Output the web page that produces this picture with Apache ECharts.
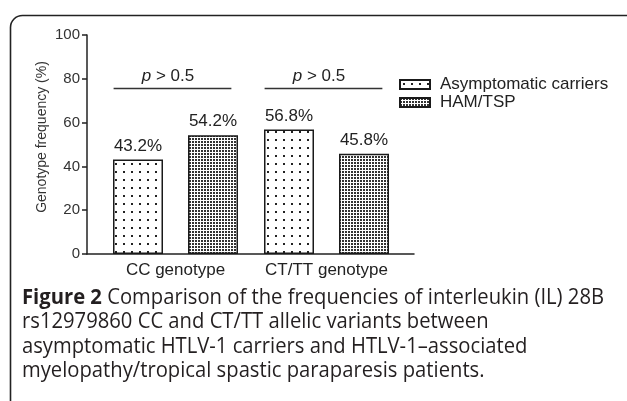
<!DOCTYPE html>
<html>
<head>
<meta charset="utf-8">
<script src="https://cdn.jsdelivr.net/npm/echarts@6/dist/echarts.min.js"></script>
<style>
html,body{margin:0;padding:0;background:#fff;}
#chart{width:627px;height:401px;}
</style>
</head>
<body>
<div id="chart"></div>
<script>
// ---- data ----
const categories = ['CC genotype', 'CT/TT genotype'];
const seriesNames = ['Asymptomatic carriers', 'HAM/TSP'];
const asymptomatic = [43.2, 56.8];
const hamTsp = [54.2, 45.8];
const yTicks = [0, 20, 40, 60, 80, 100];
const bracketLevel = [75.6, 75.6];
const bracketText = ['p > 0.5', 'p > 0.5'];
const captionLines = [
  'Comparison of the frequencies of interleukin (IL) 28B',
  'rs12979860 CC and CT/TT allelic variants between',
  'asymptomatic HTLV-1 carriers and HTLV-1\u2013associated',
  'myelopathy/tropical spastic paraparesis patients.'
];
const captionLead = 'Figure 2';

// ---- patterns ----
function makePattern(size, dot, col) {
  const c = document.createElement('canvas');
  c.width = size; c.height = size;
  const g = c.getContext('2d');
  g.fillStyle = '#fff'; g.fillRect(0, 0, size, size);
  g.fillStyle = col;
  g.fillRect(Math.floor((size - dot) / 2), Math.floor((size - dot) / 2), dot, dot);
  return { image: c, repeat: 'repeat' };
}
const sparse = makePattern(8, 2, '#222');
const dense = makePattern(3, 2, '#333');

const FONT = 'Liberation Sans, Arial, Helvetica, sans-serif';
const CAP_SIZE = 21;

// caption scaling to match condensed look
const mc = document.createElement('canvas').getContext('2d');
mc.font = 'bold ' + CAP_SIZE + 'px "Open Sans"';
const leadW = mc.measureText(captionLead).width;
mc.font = CAP_SIZE + 'px "Open Sans"';
const line1W = leadW + mc.measureText(' ' + captionLines[0]).width;
const capScale = 582 / line1W;

const graphics = [
  { type: 'rect', left: 8, top: 13, shape: { width: 640, height: 420, r: 12 }, style: { fill: 'none', stroke: '#222', lineWidth: 1.6 }, silent: true }
];
const centers = [298, 322.5, 347, 371.5];
captionLines.forEach((t, i) => {
  graphics.push({
    type: 'text', x: 22, y: centers[i], scaleX: capScale,
    style: {
      text: i === 0 ? '{b|' + captionLead + '} ' + t : t,
      font: CAP_SIZE + 'px "Open Sans"', fill: '#231f20', verticalAlign: 'middle',
      rich: { b: { fontWeight: 'bold', fontSize: CAP_SIZE, fontFamily: 'Open Sans', fill: '#231f20' } }
    }
  });
});

const chart = echarts.init(document.getElementById('chart'), null, { renderer: 'canvas' });
const option = {
  animation: false,
  backgroundColor: '#fff',
  textStyle: { fontFamily: FONT },
  grid: [
    { left: 100, right: 225, top: 35, bottom: 147 },
    { left: 87, right: 213, top: 35, bottom: 147 }
  ],
  legend: {
    data: seriesNames,
    orient: 'vertical',
    left: 399, top: 76, padding: 0,
    itemWidth: 30, itemHeight: 9, itemGap: 1,
    textStyle: { fontSize: 17, color: '#222', fontFamily: FONT, padding: [0, 0, 0, 5] },
    icon: 'rect'
  },
  xAxis: [
    {
      type: 'category', data: categories, gridIndex: 0,
      axisLine: { show: false }, axisTick: { show: false },
      axisLabel: { interval: 0, fontSize: 17, color: '#222', margin: 8, fontFamily: FONT }
    },
    {
      type: 'value', gridIndex: 1, min: 0, max: 1,
      axisLine: { show: true, lineStyle: { color: '#222', width: 1.5 } },
      axisTick: { show: false }, axisLabel: { show: false }, splitLine: { show: false }
    }
  ],
  yAxis: [
    {
      type: 'value', gridIndex: 0, min: yTicks[0], max: yTicks[yTicks.length - 1], interval: 20,
      offset: 13,
      axisLine: { show: true, lineStyle: { color: '#222', width: 1.5 } },
      axisTick: { show: true, length: 5, lineStyle: { color: '#222', width: 1.5 } },
      axisLabel: { fontSize: 15, color: '#333', margin: 7, fontFamily: FONT },
      splitLine: { show: false },
      name: 'Genotype frequency (%)', nameLocation: 'middle', nameGap: 38,
      nameTextStyle: { fontSize: 14, color: '#333', fontFamily: FONT, padding: [0, 0, 0, 15] }
    },
    { type: 'value', gridIndex: 1, show: false, min: 0, max: 100 }
  ],
  series: [
    {
      name: seriesNames[0], type: 'bar', data: asymptomatic, barWidth: 50, barGap: '50%',
      itemStyle: { color: sparse, borderColor: '#1a1a1a', borderWidth: 1.5 },
      label: { show: true, position: 'top', distance: 5, formatter: '{c}%', fontSize: 17, color: '#222', fontFamily: FONT }
    },
    {
      name: seriesNames[1], type: 'bar', data: hamTsp, barWidth: 50, barGap: '50%',
      itemStyle: { color: dense, borderColor: '#1a1a1a', borderWidth: 1.5 },
      label: { show: true, position: 'top', distance: 5, formatter: '{c}%', fontSize: 17, color: '#222', fontFamily: FONT }
    },
    {
      type: 'custom', name: 'brackets', silent: true,
      data: bracketLevel.map((v, i) => [i, v]),
      encode: { x: 0, y: 1 },
      renderItem: function (params, api) {
        const c = api.coord([api.value(0), api.value(1)]);
        const w = api.size([1, 0])[0];
        const t = bracketText[params.dataIndex];
        const parts = t.split(' ');
        return {
          type: 'group',
          children: [
            { type: 'line', shape: { x1: c[0] - 0.41 * w, y1: c[1], x2: c[0] + 0.37 * w, y2: c[1] },
              style: { stroke: '#333', lineWidth: 1.5 } },
            { type: 'text', x: c[0] - 0.05 * w, y: c[1] - 4,
              style: {
                text: '{i|' + parts[0] + '} ' + parts.slice(1).join(' '),
                align: 'center', verticalAlign: 'bottom',
                fontSize: 17, fontFamily: FONT, fill: '#222',
                rich: { i: { fontStyle: 'italic', fontSize: 17, fontFamily: FONT, fill: '#222' } }
              } }
          ]
        };
      }
    }
  ],
  graphic: graphics
};
chart.setOption(option);
</script>
</body>
</html>
